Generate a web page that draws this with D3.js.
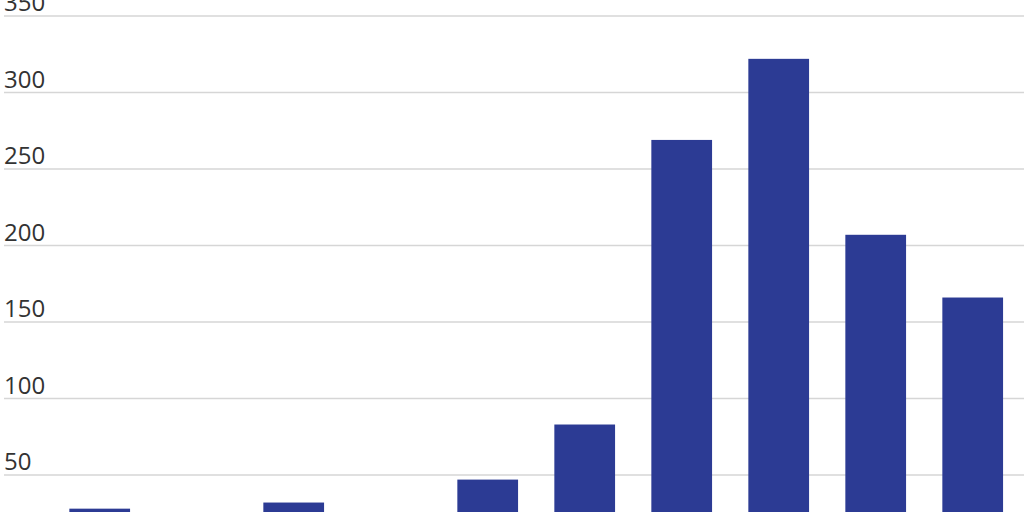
<!DOCTYPE html>
<html>
<head>
<meta charset="utf-8">
<script src="https://cdn.jsdelivr.net/npm/d3@7"></script>
<style>
  html, body { margin: 0; padding: 0; background: #fff; overflow: hidden; }
  svg { display: block; }
</style>
</head>
<body>
<div id="chart"></div>
<script>
// data (x labels sit below the visible area)
const categories = ['1', '2', '3', '4', '5', '6', '7', '8', '9', '10']
const values = [28, 18, 32, 20, 47, 83, 269, 322, 207, 166]
const yTicks = [50, 100, 150, 200, 250, 300, 350]

const W = 1024, H = 512
const svg = d3.select('#chart').append('svg')
    .attr('width', W)
    .attr('height', H)

// zero line lies below the picture edge
const y = d3.scaleLinear().domain([0, 350]).range([551.5, 16])
const x = d3.scaleBand()
    .domain(categories)
    .range([51.2, 1021.2])
    .paddingInner(0.374)
    .paddingOuter(0.187)

// gridlines
svg.append('g')
    .selectAll('line')
    .data(yTicks)
    .enter().append('line')
    .attr('x1', 4)
    .attr('x2', W)
    .attr('y1', d => y(d))
    .attr('y2', d => y(d))
    .attr('stroke', '#d6d6d6')
    .attr('stroke-width', 1.5)

// tick labels, sitting on top of each gridline
svg.append('g')
    .selectAll('text')
    .data(yTicks)
    .enter().append('text')
    .attr('x', 4)
    .attr('y', d => y(d) - 5)
    .attr('fill', '#333')
    .attr('font-family', '"Open Sans", sans-serif')
    .attr('font-size', 24)
    .text(d => d)

// bars
svg.append('g')
    .selectAll('rect')
    .data(values)
    .enter().append('rect')
    .attr('x', (d, i) => x(categories[i]))
    .attr('width', x.bandwidth())
    .attr('y', d => y(d))
    .attr('height', d => y(0) - y(d))
    .attr('fill', '#2c3b94')
</script>
</body>
</html>
